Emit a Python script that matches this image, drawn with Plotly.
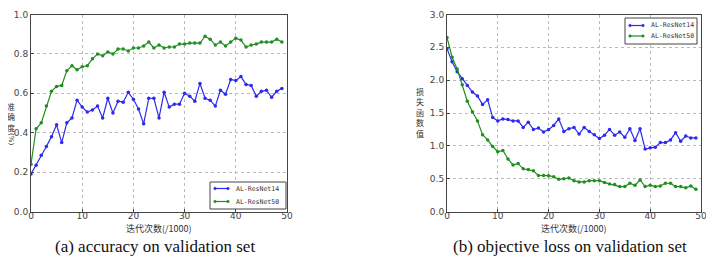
import plotly.graph_objects as go

iters = list(range(50))

acc_r14 = [0.19, 0.235, 0.285, 0.33, 0.38, 0.44, 0.35, 0.45, 0.475, 0.565,
           0.53, 0.505, 0.515, 0.535, 0.475, 0.575, 0.50, 0.56, 0.555, 0.605,
           0.57, 0.52, 0.445, 0.575, 0.575, 0.475, 0.605, 0.53, 0.545, 0.545,
           0.60, 0.585, 0.56, 0.65, 0.575, 0.565, 0.535, 0.615, 0.595, 0.67,
           0.665, 0.685, 0.645, 0.64, 0.585, 0.61, 0.615, 0.58, 0.61, 0.625]
acc_r50 = [0.24, 0.42, 0.45, 0.535, 0.61, 0.635, 0.64, 0.715, 0.74, 0.72,
           0.735, 0.74, 0.775, 0.80, 0.79, 0.81, 0.80, 0.825, 0.825, 0.815,
           0.83, 0.83, 0.84, 0.86, 0.83, 0.845, 0.83, 0.835, 0.835, 0.85,
           0.85, 0.855, 0.855, 0.855, 0.89, 0.875, 0.845, 0.86, 0.84, 0.86,
           0.88, 0.87, 0.835, 0.845, 0.85, 0.86, 0.86, 0.86, 0.875, 0.86]
loss_r14 = [2.48, 2.28, 2.13, 2.02, 1.92, 1.82, 1.76, 1.63, 1.70, 1.43,
            1.38, 1.41, 1.40, 1.38, 1.38, 1.28, 1.36, 1.25, 1.27, 1.21,
            1.25, 1.31, 1.41, 1.22, 1.26, 1.28, 1.18, 1.28, 1.22, 1.17,
            1.11, 1.16, 1.25, 1.16, 1.21, 1.13, 1.26, 1.08, 1.26, 0.95,
            0.97, 0.98, 1.05, 1.05, 1.09, 1.20, 1.07, 1.15, 1.12, 1.12]
loss_r50 = [2.65, 2.35, 2.17, 1.93, 1.68, 1.52, 1.38, 1.17, 1.09, 0.99,
            0.91, 0.93, 0.80, 0.71, 0.73, 0.65, 0.64, 0.62, 0.55, 0.55,
            0.545, 0.53, 0.49, 0.50, 0.51, 0.47, 0.45, 0.45, 0.47, 0.47,
            0.47, 0.44, 0.42, 0.41, 0.38, 0.38, 0.43, 0.40, 0.48, 0.38,
            0.40, 0.38, 0.39, 0.43, 0.43, 0.38, 0.38, 0.36, 0.39, 0.34]

names = ["AL-ResNet14", "AL-ResNet50"]
acc_ticks = [0.0, 0.2, 0.4, 0.6, 0.8, 1.0]
loss_ticks = [0.0, 0.5, 1.0, 1.5, 2.0, 2.5, 3.0]
x_ticks = [0, 10, 20, 30, 40, 50]
x_title = "迭代次数(/1000)"
y_title_a = "准<br>确<br>度"
y_title_a_unit = "(%)"
y_title_b = "损<br>失<br>函<br>数<br>值"
caption_a = "(a) accuracy on validation set"
caption_b = "(b) objective loss on validation set"

W, H = 714, 265
OFF = 8  # page body margin offset
BLUE = "#2a2af0"
GREEN = "#1f8f1f"
colors = [BLUE, GREEN]

fig = go.Figure()
for name, ys, c in zip(names, [acc_r14, acc_r50], colors):
    fig.add_trace(go.Scatter(x=iters, y=ys, mode="lines+markers", name=name,
                             line=dict(color=c, width=1.2),
                             marker=dict(size=3.5, color=c),
                             xaxis="x", yaxis="y", showlegend=False))
for name, ys, c in zip(names, [loss_r14, loss_r50], colors):
    fig.add_trace(go.Scatter(x=iters, y=ys, mode="lines+markers", name=name,
                             line=dict(color=c, width=1.2),
                             marker=dict(size=3.5, color=c),
                             xaxis="x2", yaxis="y2", showlegend=False))

def px(x):
    return (x - OFF) / W

def py(y):
    return (H - (y - OFF)) / H

ydom = [py(211.5), py(14.5)]
axis_common = dict(showline=True, mirror=True, linecolor="#444", linewidth=1,
                   showgrid=True, gridcolor="#bbbbbb", griddash="dot", gridwidth=1,
                   zeroline=False, ticks="inside", ticklen=3, tickcolor="#444",
                   automargin=False,
                   tickfont=dict(family="DejaVu Sans", size=9, color="#444"))
xax = dict(range=[0, 50], tickvals=x_ticks, ticklabelstandoff=-4, **axis_common)

fig.update_layout(
    width=W, height=H,
    margin=dict(l=0, r=0, t=0, b=0, autoexpand=False),
    paper_bgcolor="white", plot_bgcolor="white",
    showlegend=False,
    xaxis=dict(domain=[px(31), px(287)], anchor="y", **xax),
    yaxis=dict(domain=ydom, range=[0, 1.0], tickvals=acc_ticks,
               tickformat=".1f", anchor="x", **axis_common),
    xaxis2=dict(domain=[px(447), px(701)], anchor="y2", **xax),
    yaxis2=dict(domain=ydom, range=[0, 3.0], tickvals=loss_ticks,
                tickformat=".1f", anchor="x2", **axis_common),
)

ann = []
shapes = []
base = dict(xref="paper", yref="paper", showarrow=False,
            xanchor="center", yanchor="middle")

# hand-drawn legend boxes (matplotlib style: line with a marker at each end)
legend_boxes = [
    dict(x0=210, x1=286, y0=182, y1=209, rows=[188.5, 201.5], lx0=215, lx1=228, tx=234),
    dict(x0=625, x1=697, y0=18, y1=44, rows=[25.5, 36], lx0=630, lx1=643, tx=649),
]
for lb in legend_boxes:
    shapes.append(dict(type="rect", xref="paper", yref="paper",
                       x0=px(lb["x0"]), x1=px(lb["x1"]), y0=py(lb["y1"]), y1=py(lb["y0"]),
                       line=dict(color="#444", width=1), fillcolor="white", layer="above"))
    for name, c, ry in zip(names, colors, lb["rows"]):
        shapes.append(dict(type="line", xref="paper", yref="paper",
                           x0=px(lb["lx0"]), x1=px(lb["lx1"]), y0=py(ry), y1=py(ry),
                           line=dict(color=c, width=1.2), layer="above"))
        for ex in (lb["lx0"], lb["lx1"]):
            shapes.append(dict(type="circle", xref="paper", yref="paper",
                               x0=px(ex - 1.3), x1=px(ex + 1.3),
                               y0=py(ry + 1.3), y1=py(ry - 1.3),
                               line=dict(color=c, width=0.5), fillcolor=c, layer="above"))
        ann.append(dict(text=name, x=px(lb["tx"]), y=py(ry), xref="paper", yref="paper",
                        showarrow=False, xanchor="left", yanchor="middle",
                        font=dict(family="DejaVu Sans Mono", size=6.5, color="#333")))

cjk = dict(family="Noto Sans CJK SC", size=9, color="#333")
ann.append(dict(text=x_title, x=px(159), y=py(228.5), font=cjk, **base))
ann.append(dict(text=x_title, x=px(574), y=py(228.5), font=cjk, **base))
ann.append(dict(text=y_title_a, x=px(11), y=py(117),
                font=dict(family="Noto Sans CJK SC", size=8, color="#333"), **base))
ann.append(dict(text=y_title_a_unit, x=px(11), y=py(139), textangle=90,
                font=dict(family="DejaVu Sans", size=7, color="#333"), **base))
ann.append(dict(text=y_title_b, x=px(420), y=py(112),
                font=dict(family="Noto Sans CJK SC", size=8, color="#333"), **base))
ann.append(dict(text=caption_a, x=px(155), y=py(246),
                font=dict(family="Liberation Serif", size=17, color="#111"), **base))
ann.append(dict(text=caption_b, x=px(570), y=py(246),
                font=dict(family="Liberation Serif", size=17, color="#111"), **base))
fig.update_layout(annotations=ann, shapes=shapes)

fig.write_html("out.html")
